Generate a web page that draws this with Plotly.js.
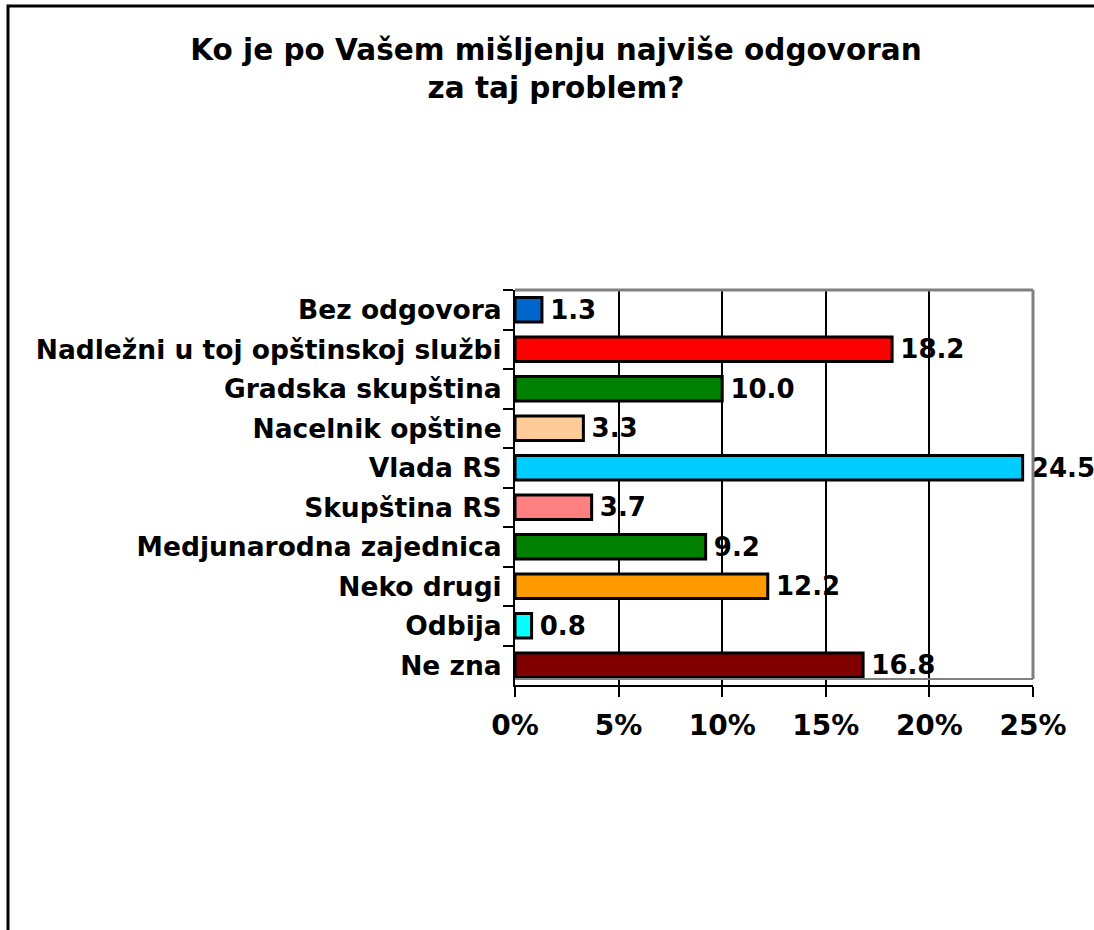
<!DOCTYPE html>
<html>
<head>
<meta charset="utf-8">
<script src="https://cdn.plot.ly/plotly-3.0.1.min.js"></script>
<style>html,body{margin:0;padding:0;background:#fff;}#chart{width:1094px;height:930px;}</style>
</head>
<body>
<div id="chart"></div>
<script>
// Data (top to bottom as shown)
const categories = [
  "Bez odgovora",
  "Nadležni u toj opštinskoj službi",
  "Gradska skupština",
  "Nacelnik opštine",
  "Vlada RS",
  "Skupština RS",
  "Medjunarodna zajednica",
  "Neko drugi",
  "Odbija",
  "Ne zna"
];
const values = [1.3, 18.2, 10.0, 3.3, 24.5, 3.7, 9.2, 12.2, 0.8, 16.8];
const barColors = ["#0066CC", "#FF0000", "#008000", "#FFCC99", "#00CCFF", "#FF8080", "#008000", "#FF9900", "#00FFFF", "#800000"];
const tickValues = [0, 5, 10, 15, 20, 25];
const tickLabels = ["0%", "5%", "10%", "15%", "20%", "25%"];
const titleText = "Ko je po Vašem mišljenju najviše odgovoran<br>za taj problem?";

const FONT = "DejaVu Sans, Verdana, sans-serif";

const W = 1094, H = 930;
const L = 515, R = 1033, T = 290, B = 685;
const pw = R - L, ph = B - T;
const px = v => (v - L) / pw;
const py = v => (B - v) / ph;

const trace = {
  type: "bar",
  orientation: "h",
  y: categories,
  x: values,
  width: 0.62,
  marker: {color: barColors, line: {color: "#000", width: 3}},
  text: values.map(v => "\u2009" + v.toFixed(1)),
  textposition: "outside",
  textfont: {family: FONT, size: 26, color: "#000", weight: "bold"},
  constraintext: "none",
  cliponaxis: false,
  hoverinfo: "none"
};

const layout = {
  width: W, height: H,
  paper_bgcolor: "#fff", plot_bgcolor: "#fff",
  margin: {l: L, r: W - R, t: T, b: H - B, pad: 0},
  showlegend: false,
  font: {family: FONT, color: "#000", weight: "bold"},
  title: {
    text: titleText,
    x: 556 / W, xref: "container", xanchor: "center",
    y: 1 - 60 / H, yref: "container", yanchor: "top",
    font: {family: FONT, size: 29.5, color: "#000", weight: "bold"}
  },
  xaxis: {
    range: [0, 25],
    tickvals: tickValues, ticktext: tickLabels,
    showgrid: true, gridcolor: "#000", gridwidth: 2,
    zeroline: false,
    showline: true, linecolor: "#000", linewidth: 2,
    ticks: "outside", ticklen: 10, tickwidth: 2, tickcolor: "#000",
    ticklabelstandoff: 4,
    tickfont: {family: FONT, size: 28, color: "#000", weight: "bold"},
    fixedrange: true
  },
  yaxis: {
    autorange: "reversed",
    type: "category",
    tickson: "boundaries",
    ticks: "outside", ticklen: 10, tickwidth: 2, tickcolor: "#000",
    ticklabelstandoff: 6,
    showline: true, linecolor: "#000", linewidth: 2,
    showgrid: false, zeroline: false,
    tickfont: {family: FONT, size: 26.5, color: "#000", weight: "bold"},
    fixedrange: true
  },
  shapes: [
    {type: "line", xref: "paper", yref: "paper", x0: 0, x1: 1, y0: 1, y1: 1, line: {color: "#808080", width: 3}, layer: "above"},
    {type: "line", xref: "paper", yref: "paper", x0: 1, x1: 1, y0: py(679), y1: 1, line: {color: "#808080", width: 3}, layer: "above"},
    {type: "line", xref: "paper", yref: "paper", x0: 0, x1: 1, y0: py(679), y1: py(679), line: {color: "#808080", width: 2}, layer: "above"},
    {type: "rect", xref: "paper", yref: "paper", x0: px(8), x1: px(1200), y0: py(1000), y1: py(6), line: {color: "#000", width: 3}, layer: "above"}
  ]
};

Plotly.newPlot("chart", [trace], layout, {displayModeBar: false, staticPlot: true});
</script>
</body>
</html>
